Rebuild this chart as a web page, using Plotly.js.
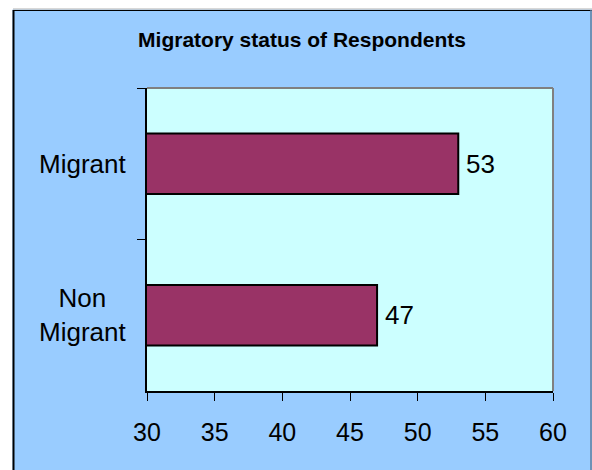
<!DOCTYPE html>
<html>
<head>
<meta charset="utf-8">
<script src="https://cdn.plot.ly/plotly-3.0.1.min.js"></script>
<style>
  html, body { margin: 0; padding: 0; background: #ffffff; }
  #chart { width: 592px; height: 470px; }
</style>
</head>
<body>
<div id="chart"></div>
<script>
// Data
const categories = ['Migrant', 'Non<br>Migrant'];
const values = [53, 47];
const xTickValues = [30, 35, 40, 45, 50, 55, 60];
const chartTitle = 'Migratory status of Respondents';

const FONT = '"Liberation Sans", Arial, sans-serif';

// pixel -> paper helpers (plot area: x 147..553, y 88..391)
const L = 147, R = 553, T = 88, B = 391;
const px = v => (v - L) / (R - L);
const py = v => (B - v) / (B - T);

const trace = {
  type: 'bar',
  orientation: 'h',
  y: categories,
  x: values,
  width: 0.4,
  marker: { color: '#993366', line: { color: '#000000', width: 2 } },
  hoverinfo: 'none'
};

const catLabels = categories.map(c => ({
  xref: 'paper', yref: 'y',
  x: px(128), y: c,
  xanchor: 'right', yanchor: 'middle',
  text: c, align: 'center', showarrow: false,
  font: { family: FONT, size: 26, color: '#000000' }
}));

const valueLabels = categories.map((c, i) => ({
  xref: 'x', yref: 'y',
  x: values[i], y: c,
  xanchor: 'left', yanchor: 'middle', xshift: 6,
  text: String(values[i]), showarrow: false,
  font: { family: FONT, size: 26, color: '#000000' }
}));

const shapes = [
  // white surround outside the blue chart box
  { type: 'rect', xref: 'paper', yref: 'paper', x0: px(-5), x1: px(12.5), y0: py(480), y1: py(-5),
    fillcolor: '#ffffff', line: { width: 0 }, layer: 'above' },
  { type: 'rect', xref: 'paper', yref: 'paper', x0: px(-5), x1: px(600), y0: py(9.5), y1: py(-5),
    fillcolor: '#ffffff', line: { width: 0 }, layer: 'above' },
  // box borders
  { type: 'line', xref: 'paper', yref: 'paper', x0: px(13), x1: px(600), y0: py(9), y1: py(9),
    line: { color: '#b0b0b0', width: 1 }, layer: 'above' },
  { type: 'line', xref: 'paper', yref: 'paper', x0: px(13), x1: px(600), y0: py(10.5), y1: py(10.5),
    line: { color: '#000000', width: 1 }, layer: 'above' },
  { type: 'line', xref: 'paper', yref: 'paper', x0: px(13.5), x1: px(13.5), y0: py(10), y1: py(480),
    line: { color: '#000000', width: 2 }, layer: 'above' },
  { type: 'line', xref: 'paper', yref: 'paper', x0: px(591), x1: px(591), y0: py(10), y1: py(480),
    line: { color: '#5f7f9f', width: 1.5 }, layer: 'above' },
  // plot area grey top/right border
  { type: 'line', xref: 'paper', yref: 'paper', x0: 0, x1: 1, y0: 1, y1: 1,
    line: { color: '#808080', width: 2 }, layer: 'above' },
  { type: 'line', xref: 'paper', yref: 'paper', x0: 1, x1: 1, y0: 0, y1: 1,
    line: { color: '#808080', width: 2 }, layer: 'above' }
];

const layout = {
  width: 592, height: 470,
  margin: { l: L, r: 592 - R, t: T, b: 470 - B, pad: 0 },
  paper_bgcolor: '#99CCFF',
  plot_bgcolor: '#CCFFFF',
  showlegend: false,
  font: { family: FONT, color: '#000000' },
  title: {
    text: '<b>' + chartTitle + '</b>',
    font: { family: FONT, size: 21, color: '#000000' },
    xref: 'paper', x: px(302), xanchor: 'center',
    yref: 'container', y: 1 - 40 / 470, yanchor: 'middle'
  },
  xaxis: {
    range: [30, 60],
    tickvals: xTickValues,
    ticktext: xTickValues.map(String),
    ticks: 'outside', ticklen: 8, tickwidth: 1, tickcolor: '#000000',
    ticklabelstandoff: 10,
    showline: true, linecolor: '#000000', linewidth: 2,
    showgrid: false, zeroline: false,
    tickfont: { family: FONT, size: 25, color: '#000000' },
    automargin: false
  },
  yaxis: {
    type: 'category',
    autorange: 'reversed',
    tickson: 'boundaries',
    ticks: 'outside', ticklen: 8, tickwidth: 1, tickcolor: '#000000',
    showticklabels: false,
    showline: true, linecolor: '#000000', linewidth: 2,
    showgrid: false, zeroline: false,
    automargin: false
  },
  annotations: catLabels.concat(valueLabels),
  shapes: shapes
};

Plotly.newPlot('chart', [trace], layout, { staticPlot: true, displayModeBar: false });
</script>
</body>
</html>
